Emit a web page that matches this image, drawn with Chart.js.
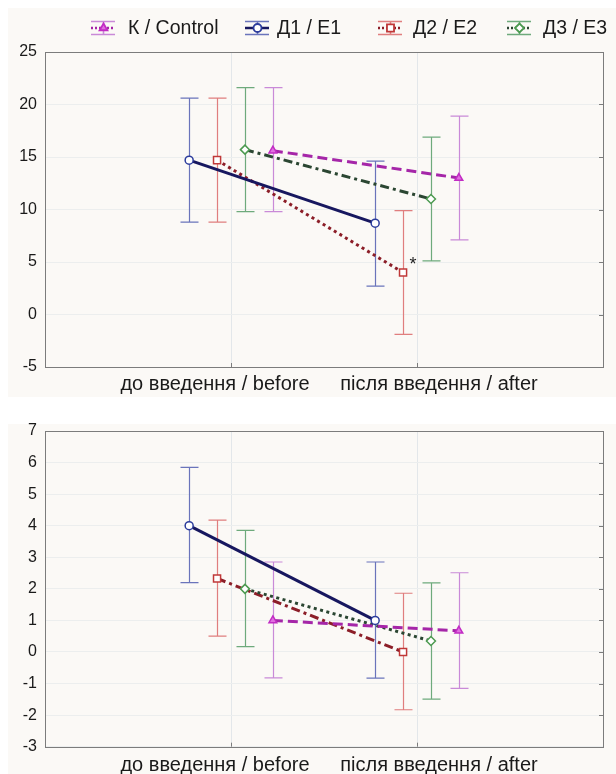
<!DOCTYPE html>
<html><head><meta charset="utf-8">
<script src="https://cdn.jsdelivr.net/npm/chart.js@4.4.1/dist/chart.umd.min.js"></script>
<style>
html,body{margin:0;padding:0;background:#fff;}
#wrap{position:relative;width:616px;height:774px;overflow:hidden;font-family:"Liberation Sans",Arial,sans-serif;}
#c1{position:absolute;left:0;top:0;}
#c2{position:absolute;left:0;top:398px;}
.sym{position:absolute;top:20px;}
.lt{position:absolute;top:16px;font-size:19.5px;line-height:22px;color:#1a1a1a;white-space:nowrap;}
</style>
</head><body>
<div id="wrap">
<canvas id="c1" width="616" height="398"></canvas>
<canvas id="c2" width="616" height="376"></canvas>
<canvas class="sym" id="s0" width="24" height="16" style="left:91px"></canvas><span class="lt" style="left:128px">К / Control</span>
<canvas class="sym" id="s1" width="24" height="16" style="left:245px"></canvas><span class="lt" style="left:277px">Д1 / E1</span>
<canvas class="sym" id="s2" width="24" height="16" style="left:378px"></canvas><span class="lt" style="left:413px">Д2 / E2</span>
<canvas class="sym" id="s3" width="24" height="16" style="left:507px"></canvas><span class="lt" style="left:543px">Д3 / E3</span>
</div>
<script>
// ---- data ----
const categories = ['до введення / before', 'після введення / after'];
const seriesNames = ['К / Control', 'Д1 / E1', 'Д2 / E2', 'Д3 / E3'];
const xOffsets = [0.225, -0.225, -0.075, 0.075];

// top chart (mean, lower, upper)
const topK = [15.6, 13.0];   const topKLow = [9.8, 7.1];   const topKHigh = [21.6, 18.9];
const topD1 = [14.7, 8.7];   const topD1Low = [8.8, 2.7];  const topD1High = [20.6, 14.6];
const topD2 = [14.7, 4.0];   const topD2Low = [8.8, -1.9]; const topD2High = [20.6, 9.9];
const topD3 = [15.7, 11.0];  const topD3Low = [9.8, 5.1];  const topD3High = [21.6, 16.9];
const topYTicks = [-5, 0, 5, 10, 15, 20, 25];

// bottom chart
const botK = [1.0, 0.67];    const botKLow = [-0.82, -1.15]; const botKHigh = [2.85, 2.51];
const botD1 = [4.0, 1.0];    const botD1Low = [2.2, -0.83];  const botD1High = [5.85, 2.85];
const botD2 = [2.33, 0.0];   const botD2Low = [0.5, -1.83];  const botD2High = [4.18, 1.86];
const botD3 = [2.0, 0.35];   const botD3Low = [0.17, -1.49]; const botD3High = [3.85, 2.19];
const botYTicks = [-3, -2, -1, 0, 1, 2, 3, 4, 5, 6, 7];

// ---- styles ----
const lineColors = ['#a526a8', '#17175f', '#8c1e28', '#2b4632'];
const markerColors = ['#c22cc4', '#2c3c9c', '#c03838', '#4c9a50'];
const errColors = ['#c98ad8', '#6a74bb', '#e07e7e', '#6eaa7c'];
const markerStyles = ['triangle', 'circle', 'rect', 'rectRot'];
const markerRadius = [4.5, 4, 5, 4.5];
const markerFill = ['#e070e0', '#ffffff', '#ffffff', '#ffffff'];
const DASHED = [10, 5], DOTTED = [3, 3.5], DASHDOT = [9, 4, 3, 4];
const drawOrder = [1, 0, 3, 2];
const labelShift = [-0.086, 0.118];

function pts(mean, off) { return mean.map((v, i) => ({ x: i + 1 + off, y: v })); }

function makeDatasets(means, lows, highs, dashes) {
  return means.map((m, s) => ({
    label: seriesNames[s],
    data: pts(m, xOffsets[s]),
    errLow: lows[s], errHigh: highs[s], errColor: errColors[s], off: xOffsets[s],
    showLine: true,
    borderColor: lineColors[s],
    borderWidth: 3,
    borderDash: dashes[s],
    pointStyle: markerStyles[s],
    pointRadius: markerRadius[s],
    pointBorderColor: markerColors[s],
    pointBackgroundColor: markerFill[s],
    pointBorderWidth: 1.5,
    order: drawOrder[s]
  }));
}

const bgPlugin = {
  id: 'bg',
  beforeDraw(chart, args, opts) {
    const c = chart.ctx;
    c.save(); c.fillStyle = '#fbf9f6';
    c.fillRect(8, opts.top, chart.width - 8, chart.height - opts.top - opts.bottom);
    c.restore();
  }
};
const errPlugin = {
  id: 'errbars',
  beforeDatasetsDraw(chart) {
    const c = chart.ctx, xs = chart.scales.x, ys = chart.scales.y;
    c.save(); c.lineWidth = 1.2;
    chart.data.datasets.forEach(ds => {
      c.strokeStyle = ds.errColor;
      ds.errLow.forEach((lo, i) => {
        const x = Math.round(xs.getPixelForValue(i + 1 + ds.off)) + 0.5;
        const y1 = ys.getPixelForValue(ds.errHigh[i]), y2 = ys.getPixelForValue(lo);
        c.beginPath();
        c.moveTo(x, y1); c.lineTo(x, y2);
        c.moveTo(x - 9, y1); c.lineTo(x + 9, y1);
        c.moveTo(x - 9, y2); c.lineTo(x + 9, y2);
        c.stroke();
      });
    });
    c.restore();
  }
};
const framePlugin = {
  id: 'frame',
  afterDraw(chart, args, opts) {
    const c = chart.ctx, a = chart.chartArea, ys = chart.scales.y, xs = chart.scales.x;
    c.save();
    c.strokeStyle = '#7c7c7c'; c.lineWidth = 1;
    c.strokeRect(Math.round(a.left) + 0.5, Math.round(a.top) + 0.5, Math.round(a.right - a.left), Math.round(a.bottom - a.top));
    c.beginPath();
    ys.ticks.forEach(t => {
      const y = Math.round(ys.getPixelForValue(t.value)) + 0.5;
      c.moveTo(a.right - 4, y); c.lineTo(a.right, y);
    });
    xs.ticks.forEach(t => {
      const x = Math.round(xs.getPixelForValue(t.value)) + 0.5;
      c.moveTo(x, a.bottom - 4); c.lineTo(x, a.bottom);
    });
    c.stroke();
    if (opts.star) {
      const p = chart.getDatasetMeta(opts.star.ds).data[opts.star.i];
      c.fillStyle = '#222'; c.font = '18px "Liberation Sans", Arial';
      c.textAlign = 'center'; c.textBaseline = 'middle';
      c.fillText('*', p.x + 10, p.y - 7);
    }
    c.restore();
  }
};

function makeChart(id, datasets, yTicks, cfg) {
  return new Chart(document.getElementById(id), {
    type: 'scatter',
    data: { datasets },
    plugins: [bgPlugin, errPlugin, framePlugin],
    options: {
      responsive: false, animation: false,
      layout: { padding: { top: cfg.padTop, right: 13, left: 0, bottom: 0 } },
      plugins: {
        legend: { display: false }, tooltip: { enabled: false },
        bg: { top: cfg.bgTop, bottom: cfg.bgBottom },
        frame: { star: cfg.star }
      },
      scales: {
        x: {
          type: 'linear', min: 0, max: 3,
          afterBuildTicks(s) { s.ticks = categories.map((c, i) => ({ value: i + 1 })); },
          afterFit(s) { s.height = 0; },
          ticks: { display: false },
          grid: { color: '#e3e7ea', drawTicks: false },
          border: { display: false }
        },
        xl: {
          type: 'linear', position: 'bottom', min: 0, max: 3,
          afterBuildTicks(s) { s.ticks = categories.map((c, i) => ({ value: i + 1 + labelShift[i] })); },
          afterFit(s) { s.height = cfg.xHeight; },
          ticks: {
            callback: (v, i) => categories[i],
            font: { family: '"Liberation Sans", Arial', size: 20 }, color: '#1a1a1a',
            padding: cfg.xPad, maxRotation: 0, autoSkip: false
          },
          grid: { display: false, drawTicks: false },
          border: { display: false }
        },
        y: {
          min: yTicks[0], max: yTicks[yTicks.length - 1],
          afterBuildTicks(s) { s.ticks = yTicks.map(v => ({ value: v })); },
          afterFit(s) { s.width = 45; },
          ticks: {
            font: { family: '"Liberation Sans", Arial', size: 16 }, color: '#1a1a1a',
            padding: 8
          },
          grid: { color: '#eceeee', drawTicks: false },
          border: { display: false }
        }
      }
    }
  });
}

const topDash = [DASHED, [], DOTTED, DASHDOT];
const botDash = [DASHED, [], DASHDOT, DOTTED];
makeChart('c1',
  makeDatasets([topK, topD1, topD2, topD3], [topKLow, topD1Low, topD2Low, topD3Low], [topKHigh, topD1High, topD2High, topD3High], topDash),
  topYTicks, { padTop: 52, xHeight: 31, xPad: 5, bgTop: 8, bgBottom: 1, star: { ds: 2, i: 1 } });
makeChart('c2',
  makeDatasets([botK, botD1, botD2, botD3], [botKLow, botD1Low, botD2Low, botD3Low], [botKHigh, botD1High, botD2High, botD3High], botDash),
  botYTicks, { padTop: 33, xHeight: 27.3, xPad: 7, bgTop: 26, bgBottom: 0, star: null });

// legend symbols
[0, 1, 2, 3].forEach(s => {
  const c = document.getElementById('s' + s).getContext('2d');
  c.strokeStyle = errColors[s]; c.lineWidth = 1.6;
  c.beginPath();
  c.moveTo(0, 1.5); c.lineTo(24, 1.5);
  c.moveTo(0, 14.5); c.lineTo(24, 14.5);
  c.moveTo(12.5, 1.5); c.lineTo(12.5, 14.5);
  c.stroke();
  c.strokeStyle = lineColors[s]; c.lineWidth = 2.5;
  c.setLineDash(s === 1 ? [] : [2, 2]);
  c.beginPath(); c.moveTo(0, 8); c.lineTo(24, 8); c.stroke();
  c.setLineDash([]);
  c.fillStyle = markerFill[s]; c.strokeStyle = markerColors[s]; c.lineWidth = 1.8;
  Chart.helpers.drawPoint(c, { pointStyle: markerStyles[s], radius: markerRadius[s], borderWidth: 1.8 }, 12.5, 8);
});
</script>
</body></html>
